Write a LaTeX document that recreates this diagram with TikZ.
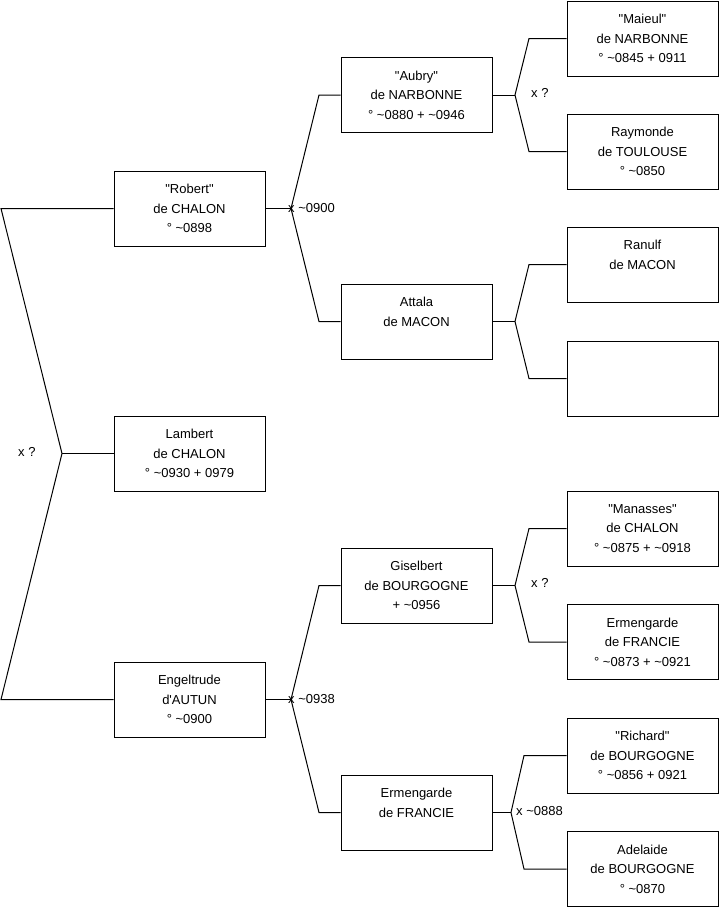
\documentclass[tikz,border=0pt]{standalone}
\usepackage{fontspec}
\setmainfont{Liberation Sans}
\newcommand{\nick}[1]{\textquotedbl#1\textquotedbl}
\begin{document}
\begin{tikzpicture}[x=1pt, y=1pt,
  personbox/.style={draw, line width=1pt, align=center, font=\fontsize{13}{19.6}\selectfont, minimum width=151pt, minimum height=75pt, inner sep=0pt},
  link/.style={line width=1pt},
  marklabel/.style={anchor=west, inner sep=0pt, font=\fontsize{13}{15}\selectfont}
]
\useasboundingbox (0,0) rectangle (719,-908);

% generation 1
\node[personbox] (robert) at (189.5,-208.5) {\nick{Robert}\\de CHALON\\° \textasciitilde0898};
\node[personbox] (lambert) at (189.5,-453.5) {Lambert\\de CHALON\\° \textasciitilde0930 + 0979};
\node[personbox] (engeltrude) at (189.5,-699.5) {Engeltrude\\d\textquotesingle AUTUN\\° \textasciitilde0900};

% generation 2
\node[personbox] (aubry) at (416.5,-95) {\nick{Aubry}\\de NARBONNE\\° \textasciitilde0880 + \textasciitilde0946};
\node[personbox] (attala) at (416.5,-321.5) {Attala\\de MACON\\\mbox{}};
\node[personbox] (giselbert) at (416.5,-585.5) {Giselbert\\de BOURGOGNE\\+ \textasciitilde0956};
\node[personbox] (ermengarde) at (416.5,-812.5) {Ermengarde\\de FRANCIE\\\mbox{}};

% generation 3
\node[personbox] (maieul) at (642.5,-38.5) {\nick{Maieul}\\de NARBONNE\\° \textasciitilde0845 + 0911};
\node[personbox] (raymonde) at (642.5,-151.5) {Raymonde\\de TOULOUSE\\° \textasciitilde0850};
\node[personbox] (ranulf) at (642.5,-264.5) {Ranulf\\de MACON\\\mbox{}};
\node[personbox] (unknown) at (642.5,-378.5) {};
\node[personbox] (manasses) at (642.5,-528.5) {\nick{Manasses}\\de CHALON\\° \textasciitilde0875 + \textasciitilde0918};
\node[personbox] (ermfrancie) at (642.5,-642) {Ermengarde\\de FRANCIE\\° \textasciitilde0873 + \textasciitilde0921};
\node[personbox] (richard) at (642.5,-755.5) {\nick{Richard}\\de BOURGOGNE\\° \textasciitilde0856 + 0921};
\node[personbox] (adelaide) at (642.5,-869) {Adelaide\\de BOURGOGNE\\° \textasciitilde0870};

% forks
\coordinate (v1) at (62,-453.5);
\coordinate (v1a) at (1,-208.5);
\coordinate (v1b) at (1,-699.5);
\draw[link] (lambert.west) -- (v1);
\draw[link] (robert.west) -- (v1a) -- (v1) -- (v1b) -- (engeltrude.west);

\coordinate (v2) at (291,-208.5);
\coordinate (v2a) at (319,-95);
\coordinate (v2b) at (319,-321.5);
\draw[link] (robert.east) -- (v2);
\draw[link] (aubry.west) -- (v2a) -- (v2) -- (v2b) -- (attala.west);

\coordinate (v3) at (515,-95);
\coordinate (v3a) at (529,-38.5);
\coordinate (v3b) at (529,-151.5);
\draw[link] (aubry.east) -- (v3);
\draw[link] (maieul.west) -- (v3a) -- (v3) -- (v3b) -- (raymonde.west);

\coordinate (v4) at (515,-321.5);
\coordinate (v4a) at (529,-264.5);
\coordinate (v4b) at (529,-378.5);
\draw[link] (attala.east) -- (v4);
\draw[link] (ranulf.west) -- (v4a) -- (v4) -- (v4b) -- (unknown.west);

\coordinate (v5) at (291,-699.5);
\coordinate (v5a) at (319,-585.5);
\coordinate (v5b) at (319,-812.5);
\draw[link] (engeltrude.east) -- (v5);
\draw[link] (giselbert.west) -- (v5a) -- (v5) -- (v5b) -- (ermengarde.west);

\coordinate (v6) at (515,-585.5);
\coordinate (v6a) at (529,-528.5);
\coordinate (v6b) at (529,-642);
\draw[link] (giselbert.east) -- (v6);
\draw[link] (manasses.west) -- (v6a) -- (v6) -- (v6b) -- (ermfrancie.west);

\coordinate (v7) at (511,-812.5);
\coordinate (v7a) at (524,-755.5);
\coordinate (v7b) at (524,-869);
\draw[link] (ermengarde.east) -- (v7);
\draw[link] (richard.west) -- (v7a) -- (v7) -- (v7b) -- (adelaide.west);

% marriage marks
\node[marklabel] (m1) at (18,-452) {x ?};
\node[marklabel] (m2) at (288,-208.5) {x \textasciitilde0900};
\node[marklabel] (m3) at (531,-93) {x ?};
\node[marklabel] (m5) at (288,-699.5) {x \textasciitilde0938};
\node[marklabel] (m6) at (531,-583) {x ?};
\node[marklabel] (m7) at (516,-811.5) {x \textasciitilde0888};
\end{tikzpicture}
\end{document}
